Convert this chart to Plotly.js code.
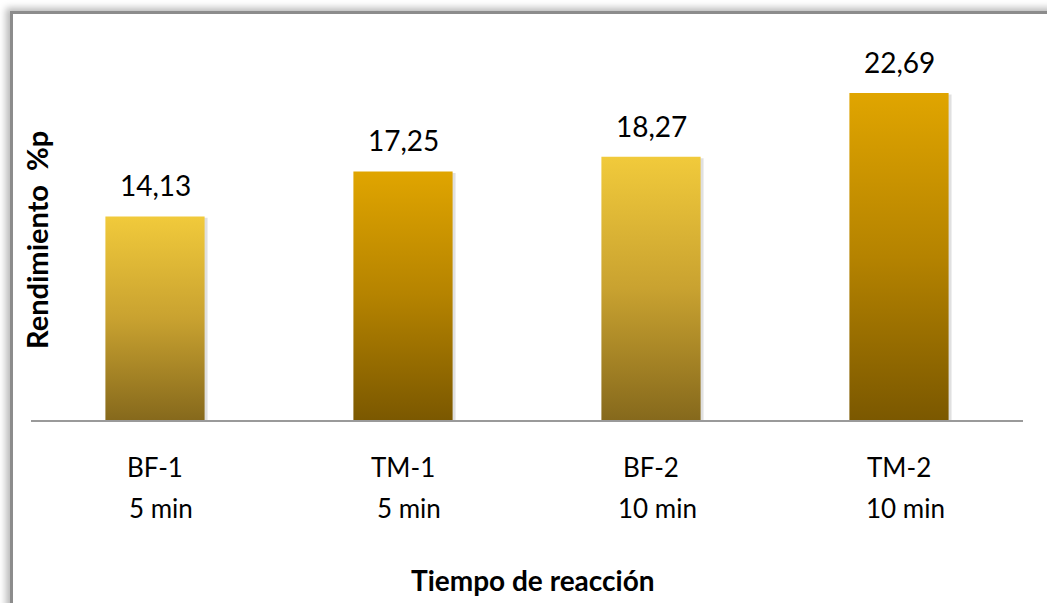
<!DOCTYPE html>
<html>
<head>
<meta charset="utf-8">
<script src="https://cdn.plot.ly/plotly-3.0.1.min.js"></script>
<style>
  html, body { margin:0; padding:0; background:#fff; overflow:hidden; }
  #chart { position:absolute; left:0; top:0; width:1047px; height:603px; }
  #frame { position:absolute; left:10px; top:11px; width:1100px; height:700px;
           border-left:3px solid #8c8c8c; border-top:3px solid #8c8c8c;
           box-shadow:-4px -3px 7px rgba(0,0,0,0.28); pointer-events:none; }
</style>
</head>
<body>
<div id="chart"></div>
<div id="frame"></div>
<script>
// ---- data ----
const samples = ["BF-1", "TM-1", "BF-2", "TM-2"];
const times = ["5 min", "5 min", "10 min", "10 min"];
const yieldPct = [14.13, 17.25, 18.27, 22.69];
const valueLabels = ["14,13", "17,25", "18,27", "22,69"];
const xTitle = "Tiempo de reacción";
const yTitle = "Rendimiento&nbsp;&nbsp;%p";

// ---- style ----
const gradBF = [[0, "#86691c"], [0.5, "#c9a230"], [1, "#f1ca3b"]];
const gradTM = [[0, "#7b5800"], [0.5, "#b58300"], [1, "#e0a500"]];
const halfW = 0.2;
const FONT = "Lato, 'Open Sans', sans-serif";

const traces = [];
samples.forEach((s, i) => {
  const v = yieldPct[i];
  // soft shadow
  traces.push({
    type: "scatter", mode: "lines", fill: "toself",
    x: [i - halfW + 0.012, i - halfW + 0.012, i + halfW + 0.012, i + halfW + 0.012, i - halfW + 0.012],
    y: [-0.25, v - 0.1, v - 0.1, -0.25, -0.25],
    line: { width: 0 }, fillcolor: "rgba(0,0,0,0.12)",
    hoverinfo: "skip", showlegend: false
  });
  traces.push({
    type: "scatter", mode: "lines", fill: "toself", name: s,
    x: [i - halfW, i - halfW, i + halfW, i + halfW, i - halfW],
    y: [0, v, v, 0, 0],
    line: { width: 0 },
    fillgradient: { type: "vertical", colorscale: s.startsWith("BF") ? gradBF : gradTM, start: 0, stop: v },
    hoverinfo: "skip", showlegend: false
  });
});

const annotations = [];
samples.forEach((s, i) => {
  annotations.push({ x: i, y: yieldPct[i], xref: "x", yref: "y", text: valueLabels[i],
    showarrow: false, yanchor: "bottom", yshift: 12, font: { family: FONT, size: 28, color: "#000" } });
  annotations.push({ x: i, y: 0, xref: "x", yref: "paper", text: s,
    showarrow: false, yanchor: "middle", yshift: -47, font: { family: FONT, size: 26, color: "#000" } });
  annotations.push({ x: i, y: 0, xref: "x", yref: "paper", text: times[i],
    showarrow: false, yanchor: "middle", yshift: -88, xshift: 6, font: { family: FONT, size: 26, color: "#000" } });
});
annotations.push({ x: 533, y: 580, xref: "paper", yref: "paper", text: "<b>" + xTitle + "</b>",
  showarrow: false, xanchor: "center", yanchor: "middle", font: { family: FONT, size: 28, color: "#000" } });
annotations.push({ x: 36, y: 240, text: "<b>" + yTitle + "</b>", textangle: -90,
  showarrow: false, xanchor: "center", yanchor: "middle", font: { family: FONT, size: 29, color: "#000" } });

// convert pixel-positioned title annotations into paper coords
const M = { l: 31, r: 24, t: 20, b: 183 }, W = 1047, H = 603;
const pw = W - M.l - M.r, ph = H - M.t - M.b;
annotations.slice(-2).forEach(a => {
  a.xref = "paper"; a.yref = "paper";
  a.x = (a.x - M.l) / pw;
  a.y = (H - M.b - a.y) / ph;
});

const layout = {
  width: W, height: H,
  margin: M,
  paper_bgcolor: "#fff", plot_bgcolor: "#fff",
  showlegend: false,
  xaxis: { range: [-0.5, 3.5], showgrid: false, zeroline: false, showticklabels: false,
           ticks: "", showline: true, linecolor: "#9a9a9a", linewidth: 2 },
  yaxis: { range: [0, 27.76], showgrid: false, zeroline: false, showticklabels: false, ticks: "", showline: false },
  annotations: annotations
};

Plotly.newPlot("chart", traces, layout, { displayModeBar: false, staticPlot: true });
</script>
</body>
</html>
